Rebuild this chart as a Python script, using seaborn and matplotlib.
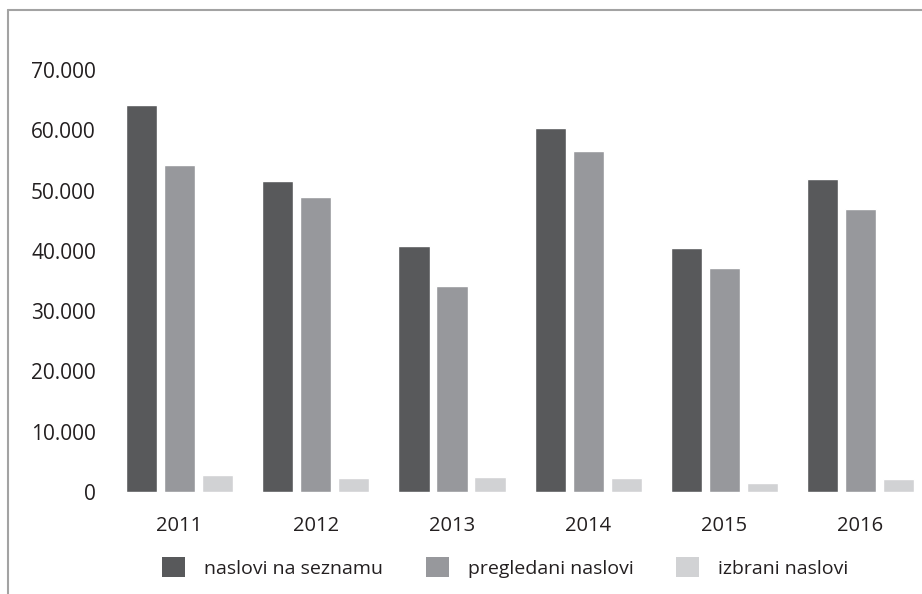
import matplotlib
matplotlib.use("Agg")
import matplotlib.pyplot as plt
from matplotlib.patches import Patch
from matplotlib.lines import Line2D
import seaborn as sns
import pandas as pd

years = ["2011", "2012", "2013", "2014", "2015", "2016"]
series = ["naslovi na seznamu", "pregledani naslovi", "izbrani naslovi"]
listed = [64200, 51600, 40800, 60300, 40500, 51900]
reviewed = [54200, 48900, 34200, 56600, 37200, 46900]
selected = [2800, 2300, 2500, 2300, 1500, 2200]
y_ticks = [0, 10000, 20000, 30000, 40000, 50000, 60000, 70000]
y_tick_labels = ["0", "10.000", "20.000", "30.000", "40.000", "50.000", "60.000", "70.000"]
colors = ["#58595b", "#97989c", "#d1d2d4"]

rows = []
for name, values in zip(series, [listed, reviewed, selected]):
    for year, v in zip(years, values):
        rows.append({"leto": year, "serija": name, "vrednost": v})
df = pd.DataFrame(rows)

sns.set_theme(style="white")
plt.rcParams["font.family"] = ["Open Sans", "DejaVu Sans"]
text_color = "#231f20"

W, H = 922, 594
fig = plt.figure(figsize=(W / 100, H / 100), dpi=100)
left_px, right_px, bottom_px, top_px = 111.5, 922, 492, 70
ax = fig.add_axes([left_px / W, 1 - bottom_px / H,
                   (right_px - left_px) / W, (bottom_px - top_px) / H])

sns.barplot(data=df, x="leto", y="vrednost", hue="serija", hue_order=series,
            order=years, palette=colors, width=0.837, gap=0.18,
            saturation=1, ax=ax, legend=False)

ax.set_xlim(-0.5, 5.4515)
ax.set_ylim(0, 70000)
ax.set_yticks(y_ticks)
ax.set_yticklabels(y_tick_labels)
ax.set_xlabel("")
ax.set_ylabel("")
for s in ax.spines.values():
    s.set_visible(False)
ax.tick_params(axis="y", length=0, pad=11.2, labelsize=15, labelcolor=text_color)
ax.tick_params(axis="x", length=0, pad=17.5, labelsize=14.5, labelcolor=text_color)
ax.grid(False)

handles = [Patch(facecolor=c, edgecolor="none") for c in colors]
fig.legend(handles, series, loc="center left",
           bbox_to_anchor=(162 / W, 1 - 567.5 / H), ncol=3, frameon=False,
           fontsize=14, handlelength=1.18, handleheight=1.18,
           handletextpad=0.98, columnspacing=2.2, borderpad=0,
           borderaxespad=0, labelcolor=text_color)

# outer frame, open toward the right and bottom
frame_color = "#a3a3a3"
fig.add_artist(Line2D([8 / W, 1.0], [1 - 10 / H, 1 - 10 / H],
                      transform=fig.transFigure, color=frame_color, lw=1.5))
fig.add_artist(Line2D([8 / W, 8 / W], [1 - 10 / H, 0.0],
                      transform=fig.transFigure, color=frame_color, lw=1.5))

fig.savefig("out.png", dpi=100, facecolor="white")
